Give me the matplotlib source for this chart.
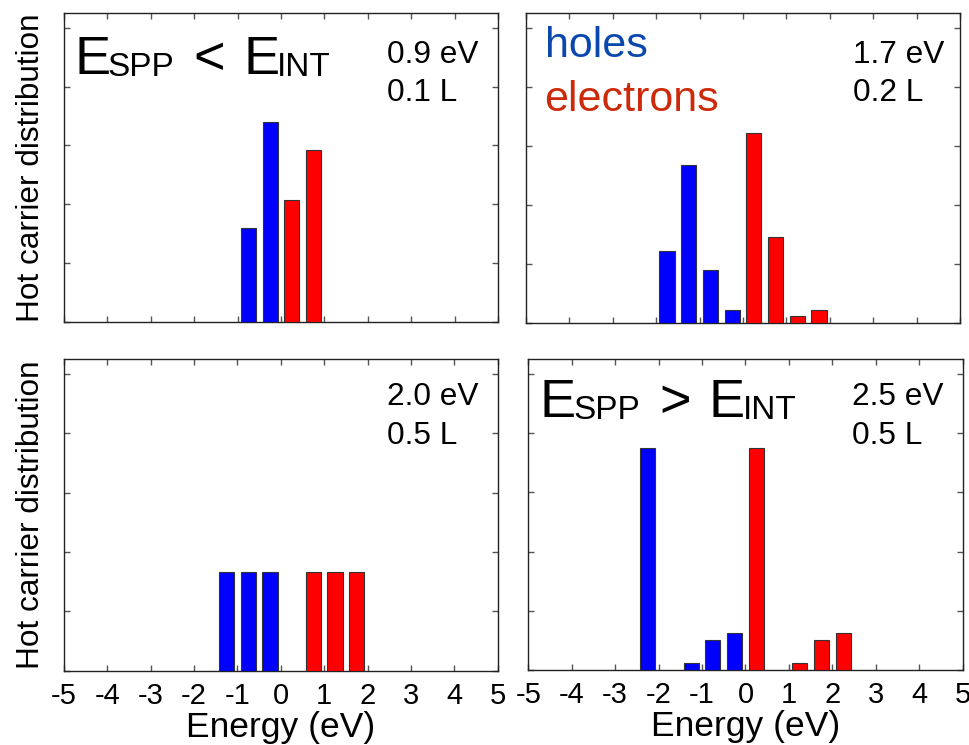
import matplotlib
matplotlib.use("Agg")
import matplotlib.pyplot as plt

plt.rcParams["font.family"] = ["Liberation Sans", "DejaVu Sans"]

# Energy axis (eV) and tick labels
energy_ticks = [-5, -4, -3, -2, -1, 0, 1, 2, 3, 4, 5]
energy_labels = ["-5", "-4", "-3", "-2", "-1", "0", "1", "2", "3", "4", "5"]
dist_ticks = [0.0, 0.1, 0.2, 0.3, 0.4, 0.5]

# Photon energy / thickness captions of each panel
photon_energy = ["0.9 eV", "1.7 eV", "2.0 eV", "2.5 eV"]
thickness = ["0.1 L", "0.2 L", "0.5 L", "0.5 L"]

# Hot-carrier distributions (bin centre in eV, normalised weight)
holes_09_E = [-0.75, -0.25]
holes_09_n = [0.160, 0.339]
elec_09_E = [0.25, 0.75]
elec_09_n = [0.207, 0.293]

holes_17_E = [-1.75, -1.25, -0.75, -0.25]
holes_17_n = [0.122, 0.267, 0.089, 0.022]
elec_17_E = [0.25, 0.75, 1.25, 1.75]
elec_17_n = [0.322, 0.145, 0.011, 0.022]

holes_20_E = [-1.25, -0.75, -0.25]
holes_20_n = [0.167, 0.167, 0.167]
elec_20_E = [0.75, 1.25, 1.75]
elec_20_n = [0.167, 0.167, 0.167]

holes_25_E = [-2.25, -1.25, -0.75, -0.25]
holes_25_n = [0.375, 0.0125, 0.050, 0.0625]
elec_25_E = [0.25, 1.25, 1.75, 2.25]
elec_25_n = [0.375, 0.0125, 0.050, 0.0625]

HOLE_C = "#0000ff"
ELEC_C = "#ff0000"
BAR_W = 0.35

fig = plt.figure(figsize=(9.7, 7.45), dpi=100)
axes_rects = [
    [0.0660, 0.5678, 0.4474, 0.4148],
    [0.5423, 0.5668, 0.4474, 0.4161],
    [0.0660, 0.0997, 0.4471, 0.4180],
    [0.5446, 0.1007, 0.4478, 0.4174],
]
axs = [fig.add_axes(r) for r in axes_rects]

panels = [
    (holes_09_E, holes_09_n, elec_09_E, elec_09_n),
    (holes_17_E, holes_17_n, elec_17_E, elec_17_n),
    (holes_20_E, holes_20_n, elec_20_E, elec_20_n),
    (holes_25_E, holes_25_n, elec_25_E, elec_25_n),
]

for i, (ax, (hE, hn, eE, en)) in enumerate(zip(axs, panels)):
    ax.bar(hE, hn, width=BAR_W, color=HOLE_C, edgecolor="#333333", linewidth=0.8, zorder=3)
    ax.bar(eE, en, width=BAR_W, color=ELEC_C, edgecolor="#333333", linewidth=0.8, zorder=3)
    ax.set_xlim(-5, 5)
    ax.set_ylim(0, 0.525)
    ax.set_xticks(energy_ticks)
    ax.set_xticklabels(energy_labels)
    ax.set_yticks(dist_ticks)
    bottom_row = i >= 2
    ax.tick_params(direction="in", length=4, width=1, color="#555555",
                   top=True, right=True, labelleft=False,
                   labelbottom=bottom_row, labelsize=21, pad=8)
    for s in ax.spines.values():
        s.set_color("#222222")
        s.set_linewidth(1.0)
    if bottom_row:
        ax.set_xlabel("Energy (eV)", fontsize=25.5, labelpad=1)
    if i % 2 == 0:
        ax.set_ylabel("Hot carrier distribution", fontsize=22.7)
        ax.yaxis.set_label_coords(-0.077, 0.5)
        ax.yaxis.label.set_va("center")
    top = i < 2
    y1 = 0.837 if top else 0.853
    y2 = 0.715 if top else 0.727
    x0 = 0.745 if i != 1 else 0.754
    ax.text(x0, y1, photon_energy[i], transform=ax.transAxes, fontsize=22.8,
            ha="left", va="baseline")
    ax.text(x0, y2, thickness[i], transform=ax.transAxes, fontsize=22.8,
            ha="left", va="baseline")


def energy_condition(ax, sym, y, xs):
    parts = [("E", 39, 0.0), ("SPP", 24, -0.0055), (sym, 39, 0.0),
             ("E", 39, 0.0), ("INT", 24, -0.0055)]
    for (txt, fs, dy), x in zip(parts, xs):
        ax.text(x, y + dy, txt, transform=ax.transAxes, fontsize=fs,
                ha="left", va="baseline")


energy_condition(axs[0], "<", 0.8026, [0.0253, 0.0991, 0.298, 0.413, 0.490])
energy_condition(axs[3], ">", 0.8125, [0.0253, 0.1035, 0.302, 0.4144, 0.495])

axs[1].text(0.044, 0.857, "holes", transform=axs[1].transAxes, fontsize=31,
            color="#0a48ae", ha="left", va="baseline")
axs[1].text(0.042, 0.683, "electrons", transform=axs[1].transAxes, fontsize=31,
            color="#cc2a0a", ha="left", va="baseline")

fig.savefig("out.png", dpi=100)
